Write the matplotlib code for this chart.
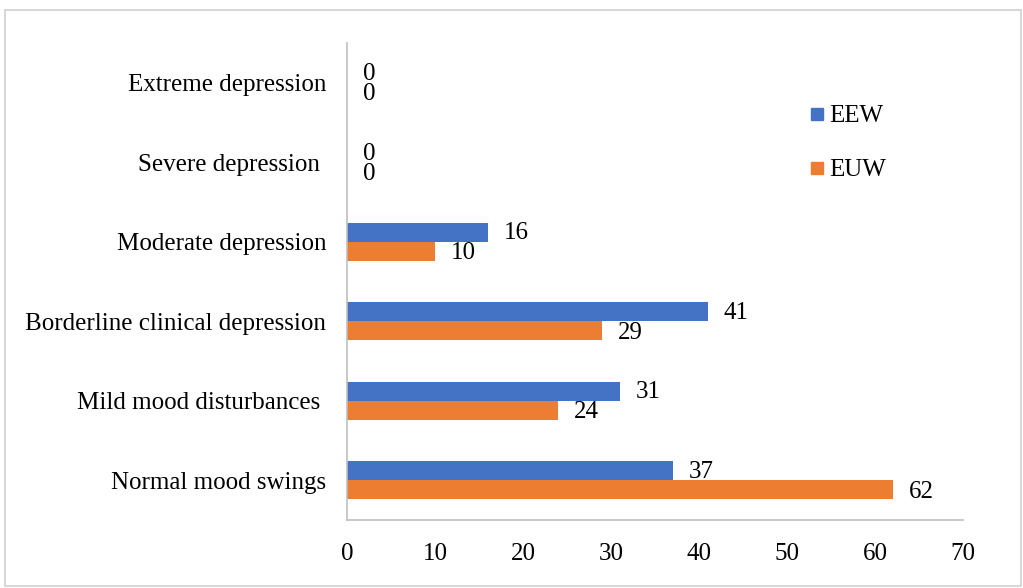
import matplotlib
matplotlib.use("Agg")
import matplotlib.pyplot as plt
import numpy as np
from matplotlib.patches import Rectangle
from matplotlib.lines import Line2D

categories = ["Normal mood swings", "Mild mood disturbances ", "Borderline clinical depression",
              "Moderate depression", "Severe depression ", "Extreme depression"]
eew = [37, 31, 41, 16, 0, 0]
euw = [62, 24, 29, 10, 0, 0]
xticks = [0, 10, 20, 30, 40, 50, 60, 70]

BLUE = "#4472C4"
ORANGE = "#ED7D31"
GRID = "#BFBFBF"

plt.rcParams["font.family"] = ["Liberation Serif", "DejaVu Serif"]
FS = 18

fig = plt.figure(figsize=(10.23, 5.88), dpi=100)
fig.patches.append(Rectangle((5 / 1023, 2 / 588), 1016 / 1023, 576 / 588, transform=fig.transFigure,
                             fill=False, edgecolor="#D0D0D0", linewidth=1.2))
ax = fig.add_axes([347 / 1023, 1 - 520 / 588, 616 / 1023, 477 / 588])

y = np.arange(len(categories))
h = 0.24
ax.barh(y + h / 2, eew, height=h, color=BLUE, label="EEW")
ax.barh(y - h / 2, euw, height=h, color=ORANGE, label="EUW")

# value labels sit about 16 px right of each bar end, a touch below its centre
px = 72 / 100
for yi, v in zip(y + h / 2, eew):
    ax.annotate(str(v), (v, yi), xytext=(16 * px, -1 * px), textcoords="offset points",
                va="center", ha="left", fontsize=FS)
for yi, v in zip(y - h / 2, euw):
    ax.annotate(str(v), (v, yi), xytext=(16 * px, -2 * px), textcoords="offset points",
                va="center", ha="left", fontsize=FS)

ax.set_xlim(0, 70)
ax.set_ylim(-0.5, len(categories) - 0.5)
ax.set_xticks(xticks)
ax.set_xticklabels([str(t) for t in xticks], fontsize=FS)
ax.set_yticks(y)
ax.set_yticklabels(categories, fontsize=FS)
ax.tick_params(axis="x", length=0, pad=16.5)
ax.tick_params(axis="y", length=0, pad=15)
for s in ["top", "right"]:
    ax.spines[s].set_visible(False)
for s in ["left", "bottom"]:
    ax.spines[s].set_color(GRID)
    ax.spines[s].set_linewidth(1.2)

handles = [Line2D([], [], marker="s", linestyle="none", markersize=8, color=BLUE),
           Line2D([], [], marker="s", linestyle="none", markersize=8, color=ORANGE)]
fig.legend(handles, ["EEW", "EUW"], loc="upper left", bbox_to_anchor=(804 / 1023, 1 - 105 / 588),
           frameon=False, fontsize=FS, labelspacing=1.25, handletextpad=0.0, handlelength=1.0,
           borderpad=0, borderaxespad=0)

fig.savefig("out.png", dpi=100)
